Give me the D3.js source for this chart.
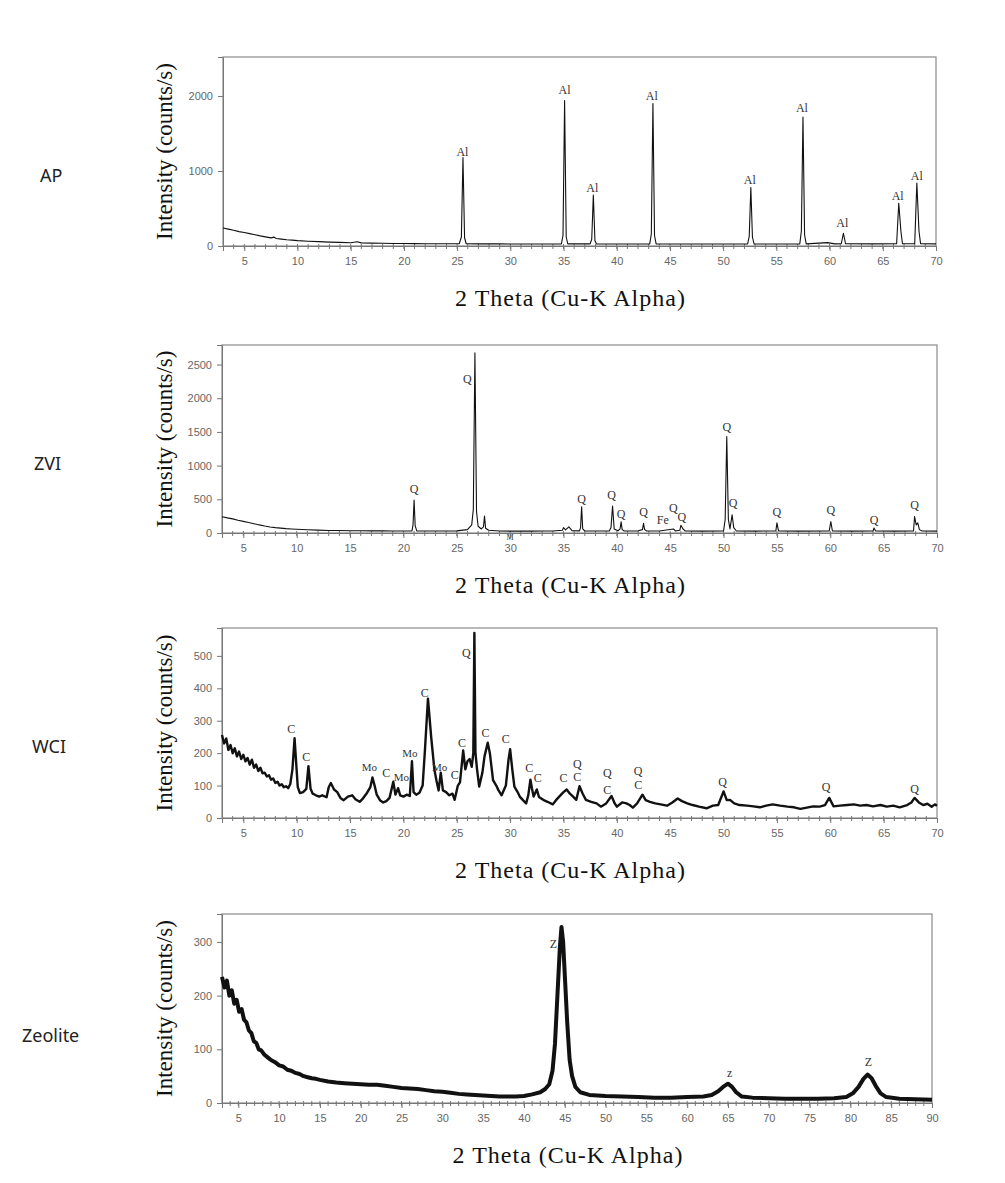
<!DOCTYPE html>
<html>
<head>
<meta charset="utf-8">
<script src="https://cdn.jsdelivr.net/npm/d3@7"></script>
<style>
  body { margin: 0; background: #fff; }
  svg { display: block; }
  .tick-label { font-family: "Liberation Sans", Arial, sans-serif; font-size: 11px; fill: #666; }
  .x-title { font-family: "Liberation Serif", "Times New Roman", serif; font-size: 24px; letter-spacing: 1px; fill: #111; }
  .y-title { font-family: "Liberation Serif", "Times New Roman", serif; font-size: 23px; fill: #111; }
  .peak-label { font-family: "Liberation Serif", "Times New Roman", serif; font-size: 12px; fill: #333; }
  .row-label { font-family: "Noto Sans", "DejaVu Sans", sans-serif; font-size: 18px; fill: #222; }
</style>
</head>
<body>
<svg id="chart" width="1005" height="1183"></svg>
<script>
// XRD patterns: [2 theta, counts/s]
var apSeries = [
  [3.0,240],[3.5,225],[4.0,210],[4.5,192],[5.0,180],[5.5,165],[6.0,150],[6.5,135],[7.0,122],[7.5,108],[7.8,118],[8.0,100],
  [8.5,92],[9.0,84],[9.5,78],[10,72],[11,64],[12,58],[13,52],[14,48],[15,44],[15.6,56],[16,42],[17,38],[18,36],[19,34],
  [20,33],[21,32],[22,31],[23,30],[24,30],[25.2,30],[25.4,120],[25.55,1180],[25.7,110],[25.85,30],[27,28],[29,28],[31,27],
  [33,27],[34.8,28],[34.95,140],[35.1,1940],[35.25,120],[35.4,28],[37.5,28],[37.65,90],[37.8,680],[37.95,70],[38.1,28],
  [40,27],[43.1,28],[43.25,160],[43.4,1900],[43.55,140],[43.7,28],[46,26],[49,27],[52.3,28],[52.45,130],[52.6,780],
  [52.75,120],[52.9,28],[55,27],[57.2,28],[57.35,200],[57.5,1720],[57.65,150],[57.8,28],[59.8,45],[60.5,28],[61.1,30],
  [61.3,170],[61.5,30],[64,28],[66.3,30],[66.5,570],[66.7,200],[66.85,30],[68,30],[68.2,840],[68.4,200],[68.55,30],[70,28]
];
var apLabels = [
  [25.5,1253,"Al"],[35.1,2080,"Al"],[37.7,773,"Al"],[43.3,2000,"Al"],[52.5,880,"Al"],[57.4,1840,"Al"],
  [61.2,307,"Al"],[66.4,667,"Al"],[68.2,933,"Al"]
];

var zviSeries = [
  [3.0,242],[3.5,225],[4.0,210],[4.5,190],[5.0,172],[5.5,155],[6,138],[6.5,120],[7,104],[7.5,90],[8,80],[8.5,72],[9,65],
  [9.5,60],[10,56],[11,48],[12,42],[13,38],[14,36],[15,34],[16,33],[17,32],[18,31],[19,30],[20,30],[20.8,32],[20.9,120],
  [21.0,490],[21.1,110],[21.25,32],[23,30],[25,32],[26,50],[26.4,120],[26.55,350],[26.7,2675],[26.85,320],[27.0,100],
  [27.3,60],[27.5,90],[27.6,250],[27.7,70],[28,40],[29,30],[30,28],[31,30],[32,28],[33,30],[34,30],[34.9,40],[35.0,80],
  [35.2,45],[35.5,90],[35.8,35],[36.5,32],[36.6,80],[36.7,390],[36.8,60],[37,30],[39.3,32],[39.45,80],[39.6,400],
  [39.75,60],[40.1,32],[40.3,60],[40.4,165],[40.5,50],[40.7,30],[42,32],[42.4,50],[42.5,145],[42.6,50],[42.8,30],[44,30],
  [45.3,60],[45.5,30],[45.9,40],[46.0,115],[46.2,60],[46.4,30],[48,28],[50.0,30],[50.15,200],[50.3,1430],[50.45,200],
  [50.6,60],[50.8,270],[50.95,80],[51.2,30],[53,28],[54.9,30],[55.0,150],[55.15,30],[57,28],[59.9,30],[60.05,168],
  [60.2,30],[62,28],[64.0,30],[64.1,75],[64.25,30],[66,28],[67.8,30],[67.9,245],[68.05,120],[68.2,150],[68.35,50],
  [68.6,30],[70,28]
];
var zviLabels = [
  [21.0,650,"Q"],[26.0,2290,"Q"],[36.7,505,"Q"],[39.5,560,"Q"],[40.4,280,"Q"],[42.5,310,"Q"],[44.3,200,"Fe"],
  [45.3,367,"Q"],[46.1,242,"Q"],[50.3,1580,"Q"],[50.9,445,"Q"],[55.0,317,"Q"],[60.05,342,"Q"],[64.1,193,"Q"],
  [67.9,416,"Q"],[30.0,-60,"M"]
];

var wciSeries = [
  [3.0,256],[3.2,230],[3.4,245],[3.6,210],[3.8,225],[4.0,200],[4.2,215],[4.4,190],[4.6,205],[4.8,182],[5.0,195],[5.2,175],
  [5.4,185],[5.6,165],[5.8,180],[6.0,155],[6.2,165],[6.4,145],[6.6,155],[6.8,138],[7.0,140],[7.2,128],[7.4,132],[7.6,118],
  [7.8,122],[8.0,108],[8.2,112],[8.4,100],[8.6,104],[8.8,95],[9.0,98],[9.2,92],[9.4,105],[9.6,150],[9.8,246],[9.95,170],
  [10.1,95],[10.3,77],[10.6,80],[10.9,90],[11.1,160],[11.3,90],[11.5,75],[11.8,70],[12.1,66],[12.4,70],[12.8,64],[13.0,95],
  [13.2,108],[13.5,88],[13.8,80],[14.1,62],[14.4,55],[14.8,66],[15.2,70],[15.5,58],[15.9,50],[16.2,60],[16.6,78],[16.9,95],
  [17.1,125],[17.3,100],[17.5,72],[17.8,55],[18.1,48],[18.4,52],[18.7,62],[18.9,90],[19.05,112],[19.25,72],[19.5,92],
  [19.7,70],[20.0,66],[20.3,72],[20.6,68],[20.8,175],[20.95,80],[21.2,72],[21.5,78],[21.8,100],[22.0,200],[22.3,368],
  [22.6,250],[22.9,150],[23.1,115],[23.3,85],[23.5,140],[23.7,85],[24.0,80],[24.3,70],[24.6,75],[24.8,56],[25.1,100],
  [25.3,110],[25.6,208],[25.8,150],[26.0,175],[26.2,182],[26.4,158],[26.55,200],[26.65,571],[26.75,200],[26.9,150],
  [27.1,97],[27.4,140],[27.6,190],[27.9,232],[28.1,200],[28.4,117],[28.7,100],[28.9,86],[29.2,70],[29.6,100],[29.85,180],
  [30.0,212],[30.2,150],[30.4,97],[30.7,80],[30.9,66],[31.2,55],[31.5,45],[31.7,70],[31.9,118],[32.05,90],[32.2,66],
  [32.5,88],[32.7,65],[33.1,56],[33.5,50],[34.0,42],[34.3,55],[34.6,66],[35.0,80],[35.3,88],[35.6,75],[35.9,66],[36.2,56],
  [36.5,98],[36.8,75],[37.1,56],[37.6,50],[38.1,45],[38.5,35],[39.0,45],[39.5,68],[39.8,45],[40.0,35],[40.5,48],[40.9,45],
  [41.2,40],[41.5,32],[41.9,45],[42.4,72],[42.7,55],[43.1,50],[43.6,45],[44.1,42],[44.7,38],[45.2,48],[45.7,60],[46.1,52],
  [46.6,45],[47.1,40],[47.7,35],[48.4,30],[49.0,38],[49.5,40],[50.0,82],[50.3,55],[50.6,56],[51.0,45],[51.5,40],[52.2,38],
  [52.8,36],[53.4,33],[54.0,38],[54.6,42],[55.3,38],[56.0,35],[56.6,33],[57.2,28],[57.8,32],[58.4,36],[59.0,35],[59.5,40],
  [59.9,62],[60.3,36],[60.9,38],[61.6,40],[62.2,42],[62.8,38],[63.4,40],[64.0,36],[64.7,40],[65.3,35],[65.9,38],[66.5,33],
  [67.2,40],[67.6,48],[67.9,62],[68.3,48],[68.7,40],[69.1,44],[69.5,35],[69.8,42],[70.0,38]
];
var wciLabels = [
  [9.5,274,"C"],[10.9,189,"C"],[16.8,158,"Mo"],[18.4,140,"C"],[19.8,127,"Mo"],[20.6,200,"Mo"],[22.0,387,"C"],
  [23.4,158,"Mo"],[24.8,133,"C"],[25.5,232,"C"],[25.9,508,"Q"],[27.7,261,"C"],[29.6,243,"C"],[31.8,155,"C"],
  [32.6,122,"C"],[35.0,122,"C"],[36.3,125,"C"],[36.3,167,"Q"],[39.1,138,"Q"],[39.1,86,"C"],[42.0,146,"Q"],
  [42.0,102,"C"],[49.9,112,"Q"],[59.6,97,"Q"],[67.9,89,"Q"]
];

var zeoSeries = [
  [3.0,235],[3.3,215],[3.6,228],[3.9,200],[4.2,210],[4.5,185],[4.8,192],[5.1,170],[5.4,175],[5.7,155],[6.0,150],[6.3,135],
  [6.6,130],[6.9,115],[7.2,112],[7.5,100],[7.8,98],[8.2,90],[8.6,85],[9.0,80],[9.5,76],[10,70],[10.5,68],[11,62],[11.5,60],
  [12,56],[12.5,54],[13,50],[13.5,48],[14,46],[14.5,45],[15,43],[16,40],[17,38],[18,37],[19,36],[20,35],[21,34],[22,34],
  [23,32],[24,30],[25,28],[26,27],[27,26],[28,24],[29,22],[30,21],[31,19],[32,17],[33,16],[34,15],[35,14],[36,13],[37,12],
  [38,12],[39,12],[40,13],[41,16],[42,20],[42.6,26],[43.1,35],[43.5,60],[43.8,110],[44.1,200],[44.4,290],[44.6,328],
  [44.8,300],[45.0,240],[45.3,150],[45.6,80],[45.9,50],[46.3,30],[46.9,20],[48,15],[50,13],[52,12],[54,11],[56,10],[58,10],
  [60,11],[62,12],[63,15],[63.8,22],[64.4,30],[65.0,36],[65.5,30],[66.0,20],[66.7,12],[68,10],[70,9],[72,8],[74,8],[76,8],
  [78,9],[79.5,11],[80.3,18],[81.0,30],[81.6,45],[82.1,53],[82.6,46],[83.1,32],[83.7,18],[84.4,11],[86,8],[88,7],[90,6]
];
var zeoLabels = [[43.6,297,"Z"],[65.2,56,"z"],[82.2,77,"Z"]];

var apYTicks = [0, 1000, 2000];
var zviYTicks = [0, 500, 1000, 1500, 2000, 2500];
var wciYTicks = [0, 100, 200, 300, 400, 500];
var zeoYTicks = [0, 100, 200, 300];
var xTicks70 = d3.range(5, 71, 5);
var xTicks90 = d3.range(5, 91, 5);

var rowNames = ["AP", "ZVI", "WCI", "Zeolite"];
var xTitle = "2 Theta (Cu-K Alpha)";
var yTitle = "Intensity (counts/s)";

var panels = [
  { series: apSeries, labels: apLabels, yTicks: apYTicks, xTicks: xTicks70, xMax: 70, yMax: 2520,
    left: 223, right: 936, top: 57, bottom: 246, rowX: 40, rowY: 175, width: 1.1 },
  { series: zviSeries, labels: zviLabels, yTicks: zviYTicks, xTicks: xTicks70, xMax: 70, yMax: 2790,
    left: 222, right: 937, top: 345, bottom: 533, rowX: 34, rowY: 463, width: 1.1 },
  { series: wciSeries, labels: wciLabels, yTicks: wciYTicks, xTicks: xTicks70, xMax: 70, yMax: 586,
    left: 222, right: 937, top: 628, bottom: 818, rowX: 32, rowY: 746, width: 2.4 },
  { series: zeoSeries, labels: zeoLabels, yTicks: zeoYTicks, xTicks: xTicks90, xMax: 90, yMax: 352,
    left: 222, right: 932, top: 914, bottom: 1103, rowX: 22, rowY: 1035, width: 4 }
];

var svg = d3.select("#chart");

panels.forEach(function(p, i) {
  var x = d3.scaleLinear().domain([3, p.xMax]).range([p.left, p.right]);
  var y = d3.scaleLinear().domain([0, p.yMax]).range([p.bottom, p.top]);
  var g = svg.append("g");

  // frame
  g.append("rect")
    .attr("x", p.left).attr("y", p.top)
    .attr("width", p.right - p.left).attr("height", p.bottom - p.top)
    .attr("fill", "none").attr("stroke", "#8a8a8a").attr("stroke-width", 1.2);

  // minor x ticks, one per degree
  g.selectAll(".minor").data(d3.range(4, p.xMax, 1)).enter().append("line")
    .attr("x1", function(d) { return x(d); }).attr("x2", function(d) { return x(d); })
    .attr("y1", p.bottom - 2).attr("y2", p.bottom + 3)
    .attr("stroke", "#777").attr("stroke-width", 1);

  var xAxis = d3.axisBottom(x).tickValues(p.xTicks).tickSize(5).tickPadding(6).tickFormat(d3.format("d"));
  var gx = g.append("g").attr("transform", "translate(0," + p.bottom + ")").call(xAxis);
  var yAxis = d3.axisLeft(y).tickValues(p.yTicks).tickSize(5).tickPadding(5).tickFormat(d3.format("d"));
  var gy = g.append("g").attr("transform", "translate(" + p.left + ",0)").call(yAxis);
  [gx, gy].forEach(function(a) {
    a.select(".domain").attr("stroke", "#777");
    a.selectAll(".tick line").attr("stroke", "#777");
    a.selectAll(".tick text").attr("class", "tick-label").attr("fill", "#666")
      .attr("font-family", null).attr("font-size", null);
  });

  // pattern
  var line = d3.line().x(function(d) { return x(d[0]); }).y(function(d) { return y(d[1]); });
  g.append("path").datum(p.series)
    .attr("d", line).attr("fill", "none")
    .attr("stroke", "#111").attr("stroke-width", p.width).attr("stroke-linejoin", "round");

  // phase labels
  g.selectAll(".peak-label").data(p.labels).enter().append("text")
    .attr("class", "peak-label")
    .attr("x", function(d) { return x(d[0]); })
    .attr("y", function(d) { return y(d[1]); })
    .attr("text-anchor", "middle").attr("dominant-baseline", "central")
    .style("font-size", function(d) { return d[2] === "M" ? "8px" : (d[2] === "Mo" ? "11px" : null); })
    .text(function(d) { return d[2]; });

  // titles
  g.append("text").attr("class", "x-title")
    .attr("x", (p.left + p.right) / 2 - 9).attr("y", p.bottom + 60)
    .attr("text-anchor", "middle").text(xTitle);
  g.append("text").attr("class", "y-title")
    .attr("transform", "translate(172," + (p.top + p.bottom) / 2 + ") rotate(-90)")
    .attr("text-anchor", "middle").text(yTitle);

  g.append("text").attr("class", "row-label")
    .attr("x", p.rowX).attr("y", p.rowY)
    .attr("dominant-baseline", "central").text(rowNames[i]);
});
</script>
</body>
</html>
